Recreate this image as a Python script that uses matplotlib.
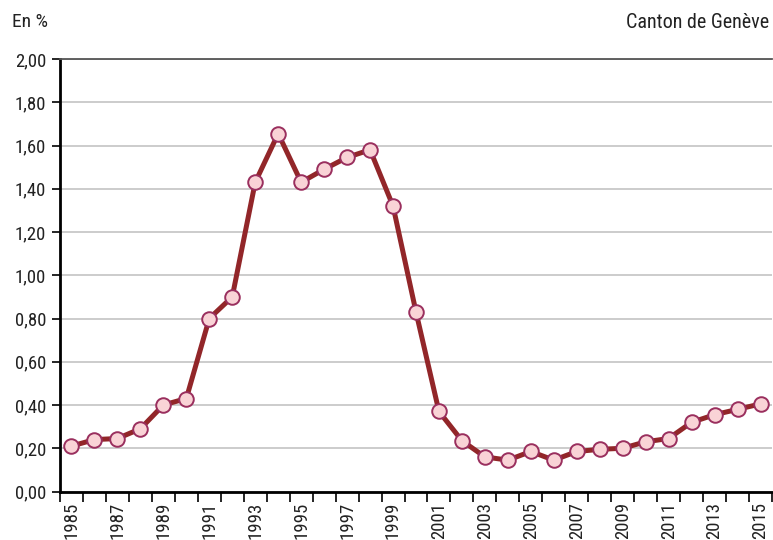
import matplotlib
matplotlib.use("Agg")
import matplotlib.pyplot as plt
from matplotlib import font_manager as fm
import numpy as np

years = list(range(1985, 2016))
values = [0.21, 0.24, 0.245, 0.29, 0.40, 0.43, 0.80, 0.90, 1.43, 1.655, 1.43, 1.49,
          1.545, 1.58, 1.32, 0.83, 0.37, 0.235, 0.16, 0.145, 0.185, 0.145, 0.185,
          0.195, 0.20, 0.23, 0.245, 0.32, 0.355, 0.38, 0.405]
yticks = [0.0, 0.2, 0.4, 0.6, 0.8, 1.0, 1.2, 1.4, 1.6, 1.8, 2.0]
ytick_labels = ["0,00", "0,20", "0,40", "0,60", "0,80", "1,00", "1,20", "1,40", "1,60", "1,80", "2,00"]
ylabel_text = "En %"
source_text = "Canton de Genève"

names = {f.name for f in fm.fontManager.ttflist}
fam = "DejaVu Sans"
for cand in ["Liberation Sans Narrow", "Roboto Condensed", "Liberation Sans"]:
    if cand in names:
        fam = cand
        break
plt.rcParams['font.family'] = [fam, 'DejaVu Sans']

fig = plt.figure(figsize=(7.73, 5.40), dpi=100)
ax = fig.add_axes([60/773, 48.5/540, 712/773, 432.5/540])

x = np.arange(len(years))
ax.plot(x, values, color="#922629", lw=3.6, marker="o", ms=10.5,
        mfc="#f9d3d6", mec="#9a2f5e", mew=1.4, zorder=3, solid_joinstyle="miter")

ax.set_xlim(-0.5, len(years) - 0.5)
ax.set_ylim(0, 2.0)
ax.set_yticks(yticks)
ax.set_yticklabels(ytick_labels, fontsize=13.5, color="#222222")
ax.yaxis.grid(True, color="#c4c4c4", lw=1.2)
ax.set_axisbelow(True)

ax.set_xticks(np.arange(len(years) + 1) - 0.5)
ax.set_xticklabels([])
ax.set_xticks(x[::2], minor=True)
ax.set_xticklabels([str(y) for y in years[::2]], minor=True, rotation=90,
                   fontsize=13.5, color="#222222")
ax.tick_params(axis='x', which='major', length=7, width=1.2, color="black", direction="out")
ax.tick_params(axis='x', which='minor', length=0, pad=7.5)
ax.tick_params(axis='y', length=6, width=1.2, color="black", pad=4)

ax.spines["right"].set_visible(False)
ax.spines["top"].set_color("#555555")
ax.spines["top"].set_linewidth(1.3)
ax.spines["left"].set_linewidth(2)
ax.spines["bottom"].set_linewidth(2)

fig.text(12/773, 1 - 22/540, ylabel_text, fontsize=14, color="#222222", va="center", ha="left")
fig.text(769/773, 1 - 22/540, source_text, fontsize=14.5, color="#222222", va="center", ha="right")

fig.savefig("out.png", dpi=100)
